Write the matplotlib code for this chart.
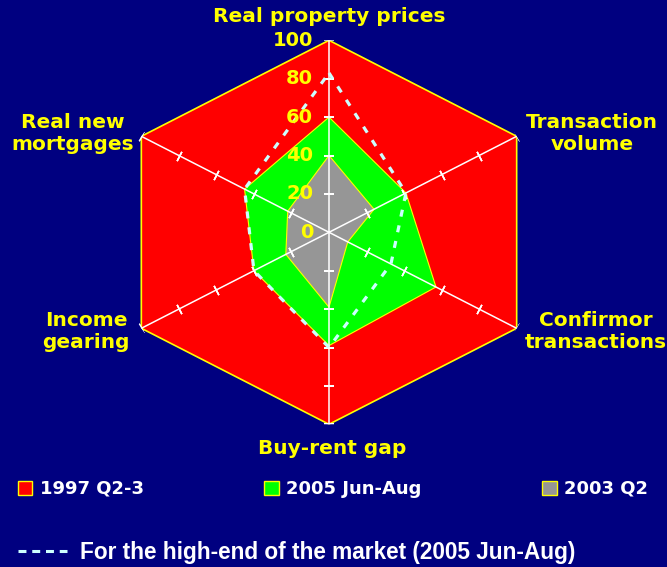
import numpy as np
import matplotlib.pyplot as plt
from matplotlib.patches import Patch
from matplotlib.lines import Line2D

# axes go clockwise from the top
categories = ["Real property prices", "Transaction\nvolume", "Confirmor\ntransactions",
              "Buy-rent gap", "Income\ngearing", "Real new\nmortgages"]
peak_1997 = [100, 100, 100, 100, 100, 100]
jun_aug_2005 = [60, 41, 57, 59, 40, 45]
q2_2003 = [40, 24, 10, 39, 23, 22]
high_end_2005 = [83, 41, 33, 60, 40, 45]
r_ticks = [0, 20, 40, 60, 80, 100]
series_names = ["1997 Q2-3", "2005 Jun-Aug", "2003 Q2"]
footnote = "For the high-end of the market (2005 Jun-Aug)"

NAVY = "#000080"
YELLOW = "#ffff00"
colors = ["#ff0000", "#00ff00", "#969696"]
W, H = 667, 567

fig = plt.figure(figsize=(W / 100, H / 100), dpi=100, facecolor=NAVY)
ax_w, ax_h = 433.4, 384.0
ax = fig.add_axes([112.3 / W, 1 - 424.3 / H, ax_w / W, ax_h / H], projection="polar")
ax.set_aspect("auto")  # the original slide is stretched sideways
ax.set_theta_zero_location("N")
ax.set_theta_direction(-1)
ax.set_ylim(0, 100)
ax.grid(False)
ax.set_xticks([])
ax.set_yticks([])
ax.spines["polar"].set_visible(False)
ax.patch.set_visible(False)

theta = np.deg2rad(np.arange(len(categories)) * 60)


def closed(vals):
    return np.append(theta, theta[0]), np.append(vals, vals[0])


ax.fill(*closed(peak_1997), facecolor=colors[0], edgecolor=YELLOW, lw=1.2, zorder=1)
ax.fill(*closed(jun_aug_2005), facecolor=colors[1], edgecolor=YELLOW, lw=0.8, zorder=2)
ax.fill(*closed(q2_2003), facecolor=colors[2], edgecolor=YELLOW, lw=0.8, zorder=3)

# spokes with little cross ticks
for t in theta:
    ax.plot([t, t], [0, 100], color="white", lw=1.1, zorder=4)
    ang = np.rad2deg(np.arctan2(np.cos(t) * ax_h, np.sin(t) * ax_w))
    ax.plot(np.full(len(r_ticks) - 1, t), r_ticks[1:], ls="none",
            marker=(2, 2, ang), ms=7.5, mec="white", mew=1.1, zorder=4)

ax.plot(*closed(high_end_2005), color="#ccffff", lw=2.3, ls=(0, (2.2, 2.8)), zorder=5)

for r in r_ticks:
    ax.annotate(str(r), xy=(0, r), xytext=(-11.5, 0), textcoords="offset points",
                ha="right", va="center", color=YELLOW, fontsize=14,
                fontweight="bold", zorder=6, annotation_clip=False)

label_xy = [(329, 17), (592, 134), (596, 331), (332, 448), (86, 331), (73, 134)]
for name, (x, y) in zip(categories, label_xy):
    fig.text(x / W, 1 - y / H, name, ha="center", va="center", color=YELLOW,
             fontsize=14.5, fontweight="bold", linespacing=1.2)

handles = [Patch(facecolor=c, edgecolor=YELLOW, lw=1) for c in colors]
fig.legend(handles, series_names, loc="center", bbox_to_anchor=(18 / W, 1 - 489 / H, 630 / W, 0),
           mode="expand", ncol=3, frameon=False, borderpad=0, borderaxespad=0,
           handlelength=0.8, handleheight=0.8, handletextpad=0.4,
           prop=dict(weight="bold", size=13), labelcolor="white")

dash_handle = Line2D([], [], color="#ccffff", lw=2.2, ls=(0, (2.6, 1.9)))
fig.legend([dash_handle], [footnote], loc="center left", bbox_to_anchor=(18 / W, 1 - 552 / H),
           frameon=False, borderpad=0, borderaxespad=0, handlelength=2.17, handletextpad=0.57,
           prop=dict(family=["Liberation Sans", "DejaVu Sans"], weight="bold", size=16.3),
           labelcolor="white")

fig.savefig("out.png", dpi=100, facecolor=NAVY)
